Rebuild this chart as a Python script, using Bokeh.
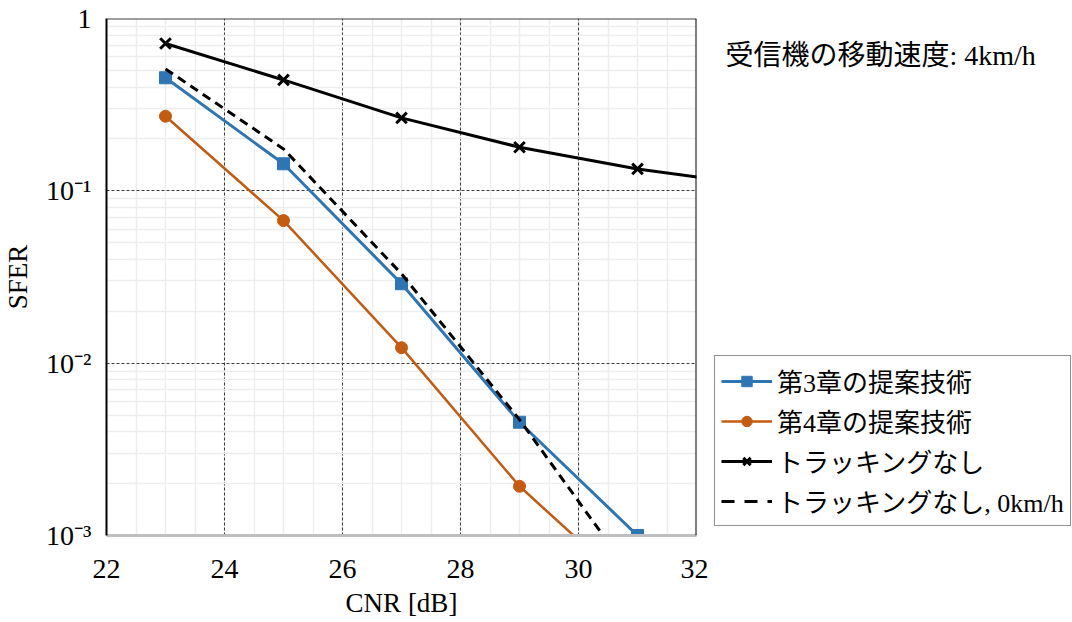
from bokeh.plotting import figure
from bokeh.layouts import row
from bokeh.models import (Range1d, FixedTicker, SingleIntervalTicker, Legend, LegendItem,
                          Label, Span)
from bokeh.embed import file_html
from bokeh.resources import INLINE

# ---------------- data ----------------
cnr = [23, 25, 27, 29, 31]
sfer_ch3 = [0.453, 0.1435, 0.0289, 0.00454, 0.00100]
sfer_ch4 = [0.271, 0.0672, 0.0123, 0.00193, 0.00046]
cnr_nt = [23, 25, 27, 29, 31, 33]
sfer_no_tracking = [0.716, 0.44, 0.265, 0.179, 0.134, 0.108]
sfer_no_tracking_0kmh = [0.51, 0.175, 0.033, 0.0047, 0.00053]

labels = ["第3章の提案技術", "第4章の提案技術", "トラッキングなし", "トラッキングなし, 0km/h"]
annotation = "受信機の移動速度: 4km/h"

x_ticks = [22, 24, 26, 28, 30, 32]
y_ticks = [0.001, 0.01, 0.1, 1]
y_tick_labels = ["10⁻³", "10⁻²", "10⁻¹", "1"]
y_minor = [m * 10.0 ** e for e in (-3, -2, -1) for m in range(2, 10)]

BLUE = "#2E75B6"
ORANGE = "#C55A11"
SERIF = "Liberation Serif, Noto Sans CJK JP"

p = figure(width=708, height=622, x_range=Range1d(22, 32), y_range=Range1d(0.001, 1),
           y_axis_type="log", output_backend="svg", toolbar_location=None,
           min_border_left=106, min_border_right=12, min_border_top=18, min_border_bottom=87)
p.outline_line_color = None
p.background_fill_color = "white"
p.border_fill_color = "white"

# ticks
p.xaxis.ticker = SingleIntervalTicker(interval=2, num_minor_ticks=4)
p.yaxis.ticker = FixedTicker(ticks=y_ticks, minor_ticks=y_minor)
p.yaxis.major_label_overrides = {t: l for t, l in zip(y_ticks, y_tick_labels)}

for ax in (p.xaxis[0], p.yaxis[0]):
    ax.major_tick_line_color = None
    ax.minor_tick_line_color = None
    ax.major_label_text_font = SERIF
    ax.major_label_text_font_size = "28px"
    ax.major_label_text_color = "black"
    ax.axis_label_text_font = SERIF
    ax.axis_label_text_font_size = "27px"
    ax.axis_label_text_font_style = "normal"
    ax.axis_label_text_color = "black"

p.xaxis.axis_label = "CNR [dB]"
p.yaxis.axis_label = "SFER"
p.xaxis.axis_line_color = "#BFBFBF"
p.xaxis.axis_line_width = 3
p.yaxis.axis_line_color = "black"
p.yaxis.axis_line_width = 2
p.xaxis.major_label_standoff = 18
p.xaxis.axis_label_standoff = 7
p.yaxis.major_label_standoff = 9
p.yaxis.axis_label_standoff = 10

# grids
p.xgrid.ticker = SingleIntervalTicker(interval=2, num_minor_ticks=4)
p.ygrid.ticker = FixedTicker(ticks=y_ticks, minor_ticks=y_minor)
for g in (p.xgrid[0], p.ygrid[0]):
    g.grid_line_color = "#3A3A3A"
    g.grid_line_dash = "3 2"
    g.grid_line_width = 1
    g.minor_grid_line_color = "#EDEDED"
    g.minor_grid_line_width = 1.5

# top/right frame borders
p.add_layout(Span(location=1, dimension="width", line_color="#404040", line_width=2))
p.add_layout(Span(location=32, dimension="height", line_color="black", line_width=2))

# series
p.line(cnr, sfer_ch3, line_color=BLUE, line_width=3)
p.scatter(cnr, sfer_ch3, marker="square", size=12, fill_color=BLUE, line_color=BLUE)
p.line(cnr, sfer_ch4, line_color=ORANGE, line_width=2.5)
p.scatter(cnr, sfer_ch4, marker="circle", size=12, fill_color=ORANGE, line_color=ORANGE)
p.line(cnr_nt, sfer_no_tracking, line_color="black", line_width=3)
p.scatter(cnr_nt, sfer_no_tracking, marker="x", size=15, line_color="black", line_width=3)
p.line(cnr, sfer_no_tracking_0kmh, line_color="black", line_width=3, line_dash="9 6")

# ---------------- side panel: legend + annotation ----------------
# (same series drawn far outside this panel's ranges, only to feed the legend glyphs)
q = figure(width=364, height=622, x_range=Range1d(100, 200), y_range=Range1d(0, 1),
           output_backend="svg", toolbar_location=None, x_axis_location=None,
           y_axis_location=None, min_border=0, min_border_left=0, min_border_right=0,
           min_border_top=18, min_border_bottom=87)
q.outline_line_color = None
q.grid.visible = False
q.background_fill_color = "white"
q.border_fill_color = "white"

k1 = q.line(cnr, sfer_ch3, line_color=BLUE, line_width=3)
m1 = q.scatter(cnr, sfer_ch3, marker="square", size=12, fill_color=BLUE, line_color=BLUE)
k2 = q.line(cnr, sfer_ch4, line_color=ORANGE, line_width=2.5)
m2 = q.scatter(cnr, sfer_ch4, marker="circle", size=12, fill_color=ORANGE, line_color=ORANGE)
k3 = q.line(cnr_nt, sfer_no_tracking, line_color="black", line_width=3)
m3 = q.scatter(cnr_nt, sfer_no_tracking, marker="x", size=12, line_color="black", line_width=3)
k4 = q.line(cnr, sfer_no_tracking_0kmh, line_color="black", line_width=3, line_dash="13 10")

legend = Legend(items=[LegendItem(label=labels[0], renderers=[k1, m1]),
                       LegendItem(label=labels[1], renderers=[k2, m2]),
                       LegendItem(label=labels[2], renderers=[k3, m3]),
                       LegendItem(label=labels[3], renderers=[k4])],
                location=(6, 9), border_line_color="#222222", border_line_width=1.5,
                padding=6, margin=0, spacing=3, glyph_width=51, glyph_height=26,
                label_height=26, label_standoff=5, label_text_font=SERIF,
                label_text_font_size="26px", label_text_color="black",
                background_fill_alpha=1.0)
q.add_layout(legend)

q.add_layout(Label(x=17, y=480, x_units="screen", y_units="screen", text=annotation,
                   text_font=SERIF, text_font_size="28px", text_baseline="middle",
                   text_color="black"))

open("out.html", "w").write(file_html(row(p, q), INLINE))
